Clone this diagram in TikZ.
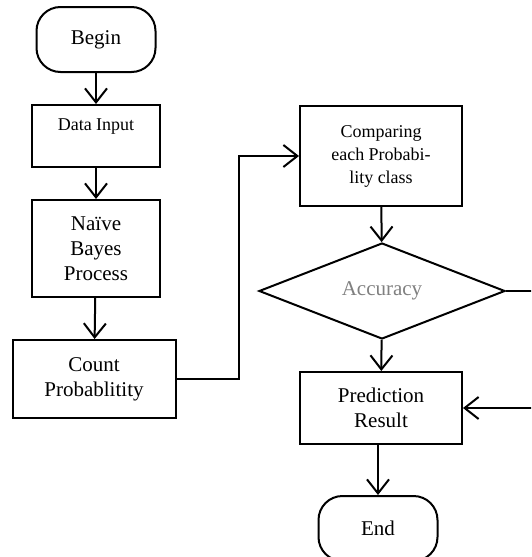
\documentclass[tikz,border=0pt]{standalone}
\usepackage{fontspec}
\setmainfont{Liberation Serif}
\usetikzlibrary{shapes.geometric,arrows.meta}

\tikzset{
  box/.style={draw, line width=1pt, align=center, inner sep=1pt,
    font=\fontsize{10.5}{12.5}\selectfont},
  smallbox/.style={box, font=\fontsize{9}{11.5}\selectfont},
  term/.style={box, rounded corners=12pt, minimum width=59.5pt, minimum height=32.5pt},
  decision/.style={draw, diamond, line width=1pt, inner sep=0pt, aspect=2.56,
    minimum width=123pt, minimum height=48pt, text=black!50,
    font=\fontsize{10.5}{12.5}\selectfont},
  flow/.style={line width=1pt, -{Straight Barb[length=7pt,width=11pt,line width=1pt]}}
}

\begin{document}
\begin{tikzpicture}[x=0.5pt,y=-0.5pt]
\useasboundingbox (0,0) rectangle (531,557);
\clip (0,0) rectangle (531,557);

\node[term] (begin) at (96,39.5) {Begin};

\node[smallbox, minimum width=64pt, minimum height=31pt] (data) at (96,136) {Data Input\\~};

\node[box, minimum width=64pt, minimum height=48.5pt] (naive) at (96,248.5) {Naïve\\Bayes\\Process};

\node[box, minimum width=81.5pt, minimum height=39pt] (count) at (94,379) {Count\\Probablitity};

\node[smallbox, minimum width=81pt, minimum height=50pt] (cmp) at (381,156) {Comparing\\each Probabi-\\lity class};

\node[decision] (acc) at (382,291) {Accuracy};

\node[box, minimum width=81pt, minimum height=36pt] (pred) at (381,408) {Prediction\\Result};

\node[term] (end) at (378,528.5) {End};

\draw[flow] (begin) -- (data);
\draw[flow] (data) -- (naive);
\draw[flow] (naive) -- (count);
\draw[flow] (count.east) -- ++(62,0) |- (cmp.west);
\draw[flow] (cmp) -- (acc);
\draw[flow] (acc) -- (pred);
\draw[flow] (acc.east) -- ++(45,0) |- (pred.east);
\draw[flow] (pred.south -| end) -- (end);

\end{tikzpicture}
\end{document}
